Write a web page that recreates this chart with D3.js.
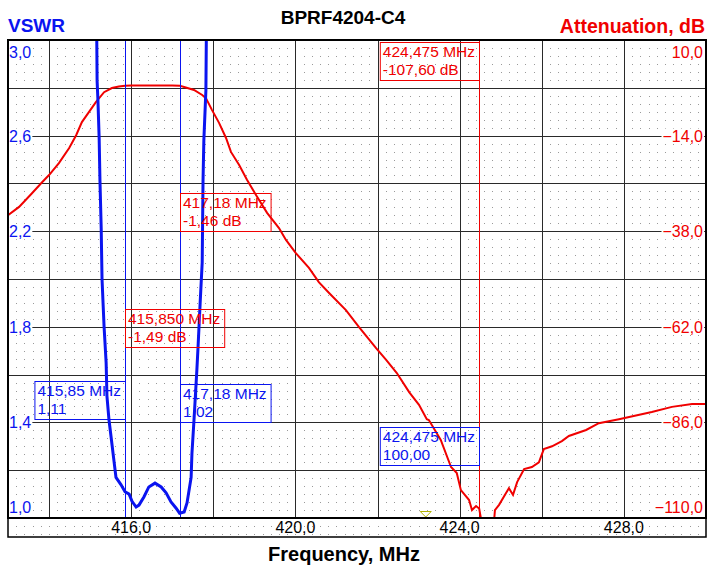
<!DOCTYPE html>
<html><head><meta charset="utf-8">
<script src="https://cdn.jsdelivr.net/npm/d3@7/dist/d3.min.js"></script>
<style>body{margin:0;background:#fff}svg{display:block}</style>
</head><body>
<script>
// ---- data ----
const title = "BPRF4204-C4";
const xTicks = [416, 420, 424, 428];
const xGrid = [414, 416, 418, 420, 422, 424, 426, 428];
const vswrTicks = [1.0, 1.4, 1.8, 2.2, 2.6, 3.0];
const attTicks = [-110, -86, -62, -38, -14, 10];
const vswrFreq = [415.16,415.17,415.19,415.22,415.24,415.27,415.29,415.34,415.39,415.41,415.46,415.51,415.58,415.63,415.75,415.85,415.95,416.02,416.12,416.19,416.31,416.43,416.58,416.73,416.85,416.97,417.09,417.18,417.29,417.36,417.46,417.48,417.53,417.60,417.63,417.68,417.73,417.75,417.77,417.82,417.83,417.84];
const vswrVal  = [3.05,2.83,2.75,2.59,2.41,2.21,2.00,1.80,1.65,1.51,1.41,1.34,1.24,1.17,1.14,1.11,1.10,1.07,1.046,1.054,1.088,1.13,1.146,1.13,1.105,1.067,1.042,1.02,1.025,1.063,1.17,1.27,1.41,1.62,1.72,1.90,2.07,2.41,2.58,2.79,3.0,3.05];
const attFreq = [413.0,413.27,413.59,413.83,414.0,414.24,414.49,414.66,414.80,414.97,415.14,415.34,415.53,415.70,415.85,416.0,416.5,417.0,417.18,417.29,417.53,417.73,417.82,417.97,418.14,418.31,418.43,418.63,418.82,419.04,419.31,419.60,419.77,420.01,420.33,420.57,420.82,421.23,421.55,421.96,422.21,422.47,422.77,423.01,423.20,423.25,423.54,423.79,423.93,424.03,424.23,424.30,424.40,424.475,424.52,424.59,424.71,424.84,424.86,424.96,425.13,425.20,425.30,425.40,425.57,425.76,425.93,426.05,426.25,426.49,426.66,427.08,427.39,427.88,428.68,429.17,429.66,430.0];
const attVal  = [-34.0,-31.9,-28.4,-25.7,-23.9,-20.9,-17.1,-13.9,-10.6,-8.1,-5.6,-3.1,-2.05,-1.7,-1.49,-1.45,-1.42,-1.44,-1.46,-1.8,-2.55,-3.8,-4.6,-7.6,-10.8,-14.6,-18.1,-21.4,-25.1,-28.9,-33.4,-37.2,-40.2,-43.5,-47.2,-50.8,-53.5,-57.8,-62.1,-67.3,-70.3,-73.6,-78.4,-81.6,-85.2,-85.4,-90.4,-97.2,-98.7,-103.0,-105.5,-108.0,-107.0,-107.6,-110.2,-113,-114,-110.5,-108.0,-106.7,-103.7,-102.5,-104.2,-101.0,-97.7,-97.2,-96.0,-92.7,-92.0,-90.7,-89.4,-87.9,-86.2,-85.2,-83.4,-82.1,-81.4,-81.4];
const markerFreqs = [415.85, 417.18, 424.475];
const vswrMarkerLabels = [["415,85 MHz","1,11"],["417,18 MHz","1,02"],["424,475 MHz","100,00"]];
const attMarkerLabels = [["415,850 MHz","-1,49 dB"],["417,18 MHz","-1,46 dB"],["424,475 MHz","-107,60 dB"]];
const refMarkerFreq = 423.15;

// ---- layout ----
const W = 715, H = 574;
const L = 8, R = 706, T = 40, B = 518, STRIP = 537;
const svg = d3.select("body").append("svg").attr("width", W).attr("height", H);
const x = d3.scaleLinear().domain([413, 430]).range([L, R]);
const yV = d3.scaleLinear().domain([1, 3]).range([B, T]);
const yA = d3.scaleLinear().domain([-110, 10]).range([B, T]);
const FONT = "'Liberation Sans', Arial, sans-serif";
const BLUE = "#0a14f0", RED = "#f00000";

svg.append("defs").append("clipPath").attr("id", "clip")
  .append("rect").attr("x", L).attr("y", T).attr("width", R - L).attr("height", B - T);

// dotted grid (plot + strip)
const dots = svg.append("g").attr("fill", "#9a9a9a");
const dx = (x(414) - x(413)) / 5, dy = (B - T) / 60;
for (let i = 1; x(413) + i * dx < R - 1; i++) {
  const px = Math.round(x(413) + i * dx);
  for (let j = 1; j < 60; j++) dots.append("rect").attr("x", px).attr("y", Math.round(T + j * dy)).attr("width", 1).attr("height", 1);
  for (let j = 1; j * 8 + B < STRIP - 1; j++) dots.append("rect").attr("x", px).attr("y", B + j * 8).attr("width", 1).attr("height", 1);
}

// solid grid
const grid = svg.append("g").attr("stroke", "#2a2a2a").attr("stroke-width", 1);
xGrid.forEach(f => grid.append("line").attr("x1", Math.round(x(f)) + 0.5).attr("x2", Math.round(x(f)) + 0.5).attr("y1", T).attr("y2", B));
d3.range(1, 10).forEach(k => {
  const yy = Math.round(T + k * (B - T) / 10) + 0.5;
  grid.append("line").attr("x1", L).attr("x2", R).attr("y1", yy).attr("y2", yy);
});

// tick labels with white background
function tickLabel(txt, px, py, anchor, color) {
  const t = svg.append("text").attr("x", px).attr("y", py).attr("text-anchor", anchor)
    .attr("font-family", FONT).attr("font-size", 16).attr("fill", color).text(txt);
  const bb = t.node().getBBox();
  svg.insert("rect", () => t.node()).attr("x", bb.x - 1).attr("y", bb.y + 1).attr("width", bb.width + 2).attr("height", bb.height - 2).attr("fill", "#fff");
}
const fmt = v => d3.format(".1f")(v).replace(".", ",");
vswrTicks.forEach(v => {
  const py = v === 3 ? T + 18 : (v === 1 ? B - 5 : yV(v) + 6);
  tickLabel(fmt(v), L + 1, py, "start", BLUE);
});
attTicks.forEach(v => {
  const py = v === 10 ? T + 18 : (v === -110 ? B - 5 : yA(v) + 6);
  tickLabel(fmt(v), R - 3, py, "end", RED);
});

// curves
const plot = svg.append("g").attr("clip-path", "url(#clip)");
plot.append("path").datum(attFreq.map((f, i) => [f, attVal[i]]))
  .attr("d", d3.line().x(d => x(d[0])).y(d => yA(d[1])))
  .attr("fill", "none").attr("stroke", RED).attr("stroke-width", 2);
plot.append("path").datum(vswrFreq.map((f, i) => [f, vswrVal[i]]))
  .attr("d", d3.line().x(d => x(d[0])).y(d => yV(d[1])))
  .attr("fill", "none").attr("stroke", BLUE).attr("stroke-width", 3);

// marker lines
markerFreqs.forEach((f, i) => {
  const px = Math.round(x(f)) + 0.5;
  plot.append("line").attr("x1", px).attr("x2", px).attr("y1", T).attr("y2", B)
    .attr("stroke", i === 2 ? RED : BLUE).attr("stroke-width", 1);
});

// marker boxes
function box(lines, mx, top, anchor, color) {
  const g = svg.append("g");
  const t1 = g.append("text").attr("font-family", FONT).attr("font-size", 15.5).attr("fill", color).text(lines[0]);
  const t2 = g.append("text").attr("font-family", FONT).attr("font-size", 15.5).attr("fill", color).text(lines[1]);
  const w = Math.max(t1.node().getComputedTextLength(), t2.node().getComputedTextLength()) + 7;
  const bx = anchor === "left" ? mx : mx - w;
  t1.attr("x", bx + 3).attr("y", top + 15);
  t2.attr("x", bx + 3).attr("y", top + 33);
  g.append("rect").attr("x", bx + 0.5).attr("y", top + 0.5).attr("width", w).attr("height", 38)
    .attr("fill", "none").attr("stroke", color).attr("stroke-width", 1);
}
const mx = markerFreqs.map(f => Math.round(x(f)));
box(attMarkerLabels[2], mx[2], 42, "right", RED);
box(attMarkerLabels[1], mx[1], 193, "left", RED);
box(attMarkerLabels[0], mx[0], 309, "left", RED);
box(vswrMarkerLabels[0], mx[0], 381, "right", BLUE);
box(vswrMarkerLabels[1], mx[1], 384, "left", BLUE);
box(vswrMarkerLabels[2], mx[2], 427, "right", BLUE);

// reference triangle marker
const tx = x(refMarkerFreq) + 1;
svg.append("path").attr("d", `M${tx - 5.5},${B - 6.5}L${tx + 5.5},${B - 6.5}L${tx},${B - 1}Z`)
  .attr("fill", "none").attr("stroke", "#b4b400").attr("stroke-width", 1);

// frame
svg.append("rect").attr("x", L).attr("y", T).attr("width", R - L).attr("height", B - T)
  .attr("fill", "none").attr("stroke", "#000").attr("stroke-width", 2);
svg.append("path").attr("d", `M${L},${B}V${STRIP}H${R}V${B}`).attr("fill", "none").attr("stroke", "#000").attr("stroke-width", 1.5);

// x tick labels
xTicks.forEach(f => svg.append("text").attr("x", x(f)).attr("y", B + 15).attr("text-anchor", "middle")
  .attr("font-family", FONT).attr("font-size", 16).attr("fill", "#000").text(fmt(f)));

// titles
svg.append("text").attr("x", 343).attr("y", 24).attr("text-anchor", "middle").attr("font-family", FONT)
  .attr("font-weight", "bold").attr("font-size", 19).attr("fill", "#000").text(title);
svg.append("text").attr("x", 8).attr("y", 32).attr("font-family", FONT)
  .attr("font-weight", "bold").attr("font-size", 19).attr("fill", BLUE).text("VSWR");
svg.append("text").attr("x", 705).attr("y", 33).attr("text-anchor", "end").attr("font-family", FONT)
  .attr("font-weight", "bold").attr("font-size", 19.5).attr("fill", RED).text("Attenuation, dB");
svg.append("text").attr("x", 344).attr("y", 561).attr("text-anchor", "middle").attr("font-family", FONT)
  .attr("font-weight", "bold").attr("font-size", 20).attr("fill", "#000").text("Frequency, MHz");
</script>
</body></html>
